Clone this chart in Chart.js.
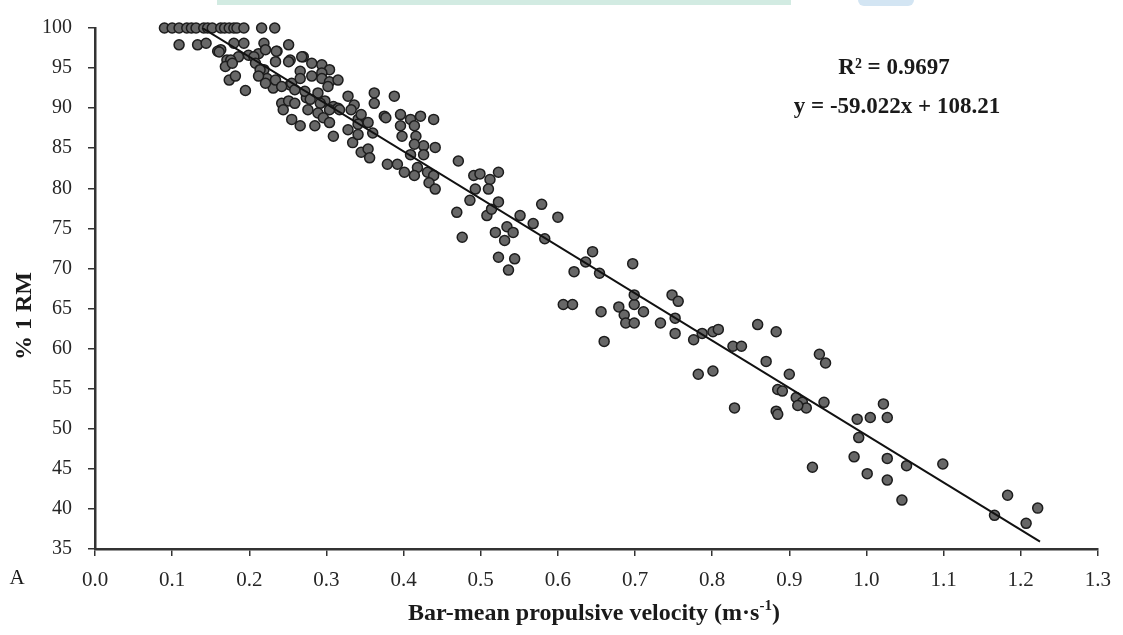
<!DOCTYPE html>
<html>
<head>
<meta charset="utf-8">
<script src="https://cdn.jsdelivr.net/npm/chart.js@4.4.1/dist/chart.umd.min.js"></script>
<style>
  html, body { margin: 0; padding: 0; background: #fff; }
</style>
</head>
<body>
<canvas id="chartRM" width="1123" height="635"></canvas>
<script>
// bar-mean propulsive velocity (m/s) and matching %1RM
const velocity = [
  0.090, 0.100, 0.109, 0.119, 0.125, 0.131, 0.141, 0.146, 0.152, 0.163, 0.168, 0.174, 0.180, 0.184, 0.193, 0.216, 0.233,
  0.109, 0.133, 0.144, 0.163, 0.180, 0.193, 0.219, 0.251,
  0.159, 0.171, 0.186, 0.199, 0.212, 0.221, 0.236,
  0.161, 0.235, 0.176, 0.206, 0.253, 0.270,
  0.169, 0.178, 0.208, 0.219, 0.234, 0.251, 0.268, 0.281, 0.294, 0.304, 0.294,
  0.214, 0.266, 0.223, 0.253, 0.231, 0.274,
  0.174, 0.182, 0.212, 0.221, 0.234, 0.242, 0.255, 0.266, 0.281, 0.294, 0.304, 0.315,
  0.195, 0.259, 0.272, 0.289, 0.302,
  0.242, 0.251, 0.259, 0.279, 0.298, 0.309, 0.328, 0.336, 0.362, 0.362, 0.388,
  0.292, 0.315, 0.328, 0.341, 0.375,
  0.244, 0.276, 0.289, 0.304, 0.317, 0.332, 0.345, 0.377, 0.396, 0.409, 0.422, 0.439,
  0.255, 0.266, 0.285, 0.296, 0.304, 0.341, 0.354, 0.396, 0.414,
  0.309, 0.334, 0.341, 0.360, 0.398, 0.416, 0.426, 0.441, 0.414,
  0.345, 0.354, 0.356, 0.409, 0.426, 0.471,
  0.379, 0.392, 0.401, 0.418, 0.414, 0.431, 0.439,
  0.433, 0.441, 0.469,
  0.491, 0.499, 0.512, 0.523, 0.493, 0.510, 0.486, 0.508, 0.523, 0.514,
  0.476, 0.519, 0.534, 0.542, 0.531, 0.551, 0.568, 0.583, 0.579, 0.600,
  0.523, 0.544, 0.536, 0.645, 0.636, 0.621, 0.654, 0.697, 0.607, 0.619,
  0.656, 0.660, 0.679, 0.686, 0.699, 0.688, 0.699, 0.711, 0.699, 0.733,
  0.748, 0.756, 0.752, 0.752, 0.776, 0.787, 0.801, 0.808, 0.827, 0.838,
  0.782, 0.801, 0.859, 0.883, 0.870, 0.829, 0.900, 0.885, 0.891, 0.883,
  0.885, 0.909, 0.917, 0.922, 0.911, 0.945, 0.939, 0.947, 0.930, 0.988,
  1.005, 1.027, 1.022, 0.990, 0.984, 1.001, 1.027, 1.027, 1.052, 1.046,
  1.099, 1.166, 1.183, 1.207, 1.222
];
const percentRM = [
  100, 100, 100, 100, 100, 100, 100, 100, 100, 100, 100, 100, 100, 100, 100, 100, 100,
  97.9, 97.9, 98.1, 97.3, 98.1, 98.1, 98.1, 97.9,
  97.1, 96.0, 96.4, 96.6, 96.8, 97.3, 97.1,
  97.0, 97.1, 96.0, 96.4, 96.0, 96.4,
  95.2, 95.6, 95.6, 94.8, 95.8, 95.8, 96.4, 95.6, 95.4, 94.8, 94.4,
  94.8, 94.6, 93.7, 92.9, 92.5, 91.3,
  93.5, 94.0, 94.0, 93.1, 93.5, 92.7, 93.1, 93.7, 94.0, 93.7, 93.3, 93.5,
  92.2, 92.3, 92.1, 91.9, 92.7,
  90.6, 90.9, 90.6, 91.1, 90.9, 90.2, 91.5, 90.4, 91.9, 90.6, 91.5,
  90.6, 90.0, 87.3, 88.6, 89.0,
  89.8, 89.8, 89.4, 89.8, 89.8, 89.8, 89.2, 88.8, 89.2, 88.6, 89.0, 88.6,
  88.6, 87.8, 87.8, 88.8, 88.2, 88.0, 88.2, 87.8, 87.8,
  86.5, 85.7, 86.7, 86.9, 86.5, 86.5, 85.3, 85.1, 85.5,
  84.5, 84.9, 83.8, 84.2, 84.2, 83.4,
  83.0, 83.0, 82.0, 82.6, 81.6, 82.0, 81.6,
  80.7, 79.9, 77.0,
  81.6, 81.8, 81.1, 82.0, 79.9, 79.9, 78.5, 76.6, 78.3, 77.4,
  73.9, 74.5, 75.2, 74.5, 73.5, 76.6, 75.6, 73.7, 78.0, 76.4,
  71.4, 71.2, 69.8, 72.1, 70.8, 69.6, 69.4, 70.6, 65.5, 65.5,
  64.6, 60.9, 65.2, 64.2, 65.5, 63.2, 63.2, 64.6, 66.7, 63.2,
  66.7, 65.9, 63.8, 61.9, 61.1, 61.9, 62.1, 62.4, 60.3, 60.3,
  56.8, 57.2, 63.0, 62.1, 58.4, 52.6, 56.8, 54.9, 54.7, 52.2,
  51.8, 53.9, 53.3, 52.6, 52.9, 53.3, 59.3, 58.2, 45.2, 51.2,
  51.4, 51.4, 53.1, 48.9, 46.5, 44.4, 46.3, 43.6, 45.4, 41.1,
  45.6, 39.2, 41.7, 38.2, 40.1
];

// linear trendline as printed on the figure
const fitSlope = -59.022;
const fitIntercept = 108.21;
const fitRange = [0.139, 1.225];
const rSquared = '0.9697';

// axes
const xMin = 0, xMax = 1.3, xStep = 0.1;
const yMin = 35, yMax = 100, yStep = 5;

const serif = "'Liberation Serif', 'Times New Roman', serif";
Chart.defaults.font.family = serif;

const points = velocity.map((v, i) => ({ x: v, y: percentRM[i] }));
const trend = fitRange.map(v => ({ x: v, y: fitSlope * v + fitIntercept }));

const extrasPlugin = {
  id: 'extras',
  beforeDraw(chart) {
    const ctx = chart.ctx;
    ctx.save();
    ctx.fillStyle = '#ffffff';
    ctx.fillRect(0, 0, chart.width, chart.height);
    // faint watermark strips along the top edge
    ctx.fillStyle = '#d2ebe2';
    ctx.fillRect(217, 0, 574, 5);
    ctx.fillStyle = '#d3e5f3';
    ctx.beginPath();
    ctx.roundRect(858, -6, 56, 12, 6);
    ctx.fill();
    ctx.restore();
  },
  afterDraw(chart) {
    const ctx = chart.ctx;
    ctx.save();
    ctx.fillStyle = '#1a1a1a';
    ctx.textAlign = 'center';
    ctx.textBaseline = 'middle';

    // equation box
    ctx.font = 'bold 23px ' + serif;
    ctx.fillText('R² = ' + rSquared, 894, 68);
    ctx.fillText('y = ' + fitSlope + 'x + ' + fitIntercept, 897, 107);

    // panel letter
    ctx.font = '21px ' + serif;
    ctx.fillText('A', 17, 578);

    // y title
    ctx.save();
    ctx.translate(25, 316);
    ctx.rotate(-Math.PI / 2);
    ctx.font = 'bold 24px ' + serif;
    ctx.fillText('% 1 RM', 0, 0);
    ctx.restore();

    // x title with superscript
    const main = 'Bar-mean propulsive velocity (m·s';
    const sup = '-1';
    const close = ')';
    ctx.textAlign = 'left';
    ctx.font = 'bold 24px ' + serif;
    const wMain = ctx.measureText(main).width;
    const wClose = ctx.measureText(close).width;
    ctx.font = 'bold 15px ' + serif;
    const wSup = ctx.measureText(sup).width;
    let x0 = 594 - (wMain + wSup + wClose) / 2;
    ctx.font = 'bold 24px ' + serif;
    ctx.fillText(main, x0, 614);
    ctx.font = 'bold 15px ' + serif;
    ctx.fillText(sup, x0 + wMain, 606);
    ctx.font = 'bold 24px ' + serif;
    ctx.fillText(close, x0 + wMain + wSup, 614);
    ctx.restore();
  }
};

new Chart(document.getElementById('chartRM').getContext('2d'), {
  type: 'scatter',
  data: {
    datasets: [
      {
        type: 'line',
        data: trend,
        borderColor: '#111111',
        borderWidth: 2,
        pointRadius: 0,
        fill: false,
        order: 0
      },
      {
        data: points,
        backgroundColor: '#676767',
        borderColor: '#1c1c1c',
        borderWidth: 1.5,
        pointRadius: 5,
        clip: false,
        order: 1
      }
    ]
  },
  options: {
    responsive: false,
    animation: false,
    layout: { padding: { left: 0, right: 17, top: 24, bottom: 6 } },
    plugins: {
      legend: { display: false },
      tooltip: { enabled: false }
    },
    scales: {
      x: {
        type: 'linear',
        min: xMin,
        max: xMax,
        afterFit: s => { s.height = 80; },
        ticks: {
          stepSize: xStep,
          color: '#262626',
          padding: 12,
          font: { size: 21 },
          callback: v => Number(v).toFixed(1)
        },
        grid: { drawOnChartArea: false, tickLength: 7, color: '#333', lineWidth: 1.5 },
        border: { color: '#333', width: 2.5 }
      },
      y: {
        min: yMin,
        max: yMax,
        afterFit: s => { s.width = 95; },
        ticks: {
          stepSize: yStep,
          color: '#262626',
          padding: 16,
          font: { size: 20 }
        },
        grid: { drawOnChartArea: false, tickLength: 7, color: '#333', lineWidth: 1.5 },
        border: { color: '#333', width: 2.5 }
      }
    }
  },
  plugins: [extrasPlugin]
});
</script>
</body>
</html>
